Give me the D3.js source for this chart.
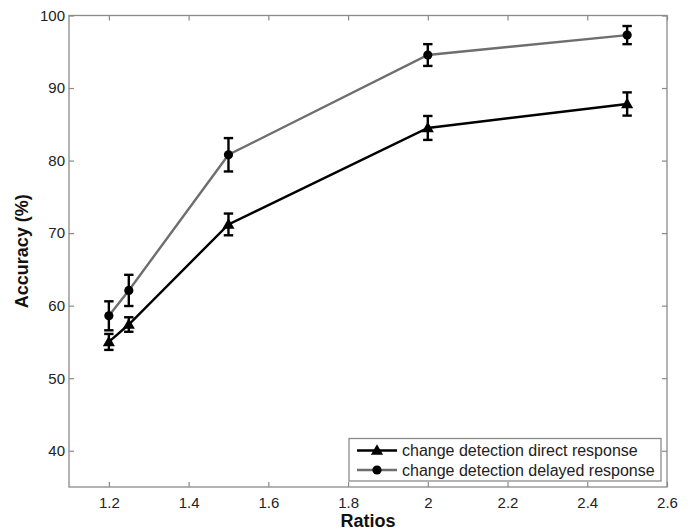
<!DOCTYPE html>
<html><head><meta charset="utf-8">
<script src="https://cdn.jsdelivr.net/npm/d3@7"></script>
<style>
html,body{margin:0;padding:0;background:#fff;}
svg{display:block;font-family:"Liberation Sans",Arial,sans-serif;}
</style></head>
<body><svg id="c" width="692" height="530"></svg>
<script>
const ratios = [1.2, 1.25, 1.5, 2, 2.5];
const directMean = [55.0, 57.4, 71.2, 84.5, 87.8];
const directErr = [1.1, 1.0, 1.5, 1.65, 1.6];
const delayedMean = [58.6, 62.1, 80.8, 94.55, 97.3];
const delayedErr = [2.0, 2.15, 2.3, 1.5, 1.25];
const xTicks = [1.2, 1.4, 1.6, 1.8, 2, 2.2, 2.4, 2.6];
const yTicks = [40, 50, 60, 70, 80, 90, 100];
const seriesNames = ["change detection direct response", "change detection delayed response"];

const svg = d3.select("#c");
const L = 69, R = 667, T = 15.5, B = 487;
const x = d3.scaleLinear().domain([1.1, 2.6]).range([L, R]);
const y = d3.scaleLinear().domain([35, 100]).range([B, T]);
const axisCol = "#8a8a8a";

// box
svg.append("rect").attr("x", L).attr("y", T).attr("width", R - L).attr("height", B - T)
  .attr("fill", "none").attr("stroke", axisCol).attr("stroke-width", 1.3);

function styleAxis(g, hideText) {
  g.select(".domain").remove();
  g.selectAll(".tick line").attr("stroke", axisCol).attr("stroke-width", 1.2);
  g.selectAll(".tick text").attr("fill", "#222").attr("font-size", 15);
  if (hideText) g.selectAll(".tick text").remove();
}
svg.append("g").attr("transform", `translate(0,${B})`)
  .call(d3.axisBottom(x).tickValues(xTicks).tickSize(-5).tickPadding(10).tickFormat(d3.format("")))
  .call(g => styleAxis(g, false));
svg.append("g").attr("transform", `translate(0,${T})`)
  .call(d3.axisTop(x).tickValues(xTicks).tickSize(-5))
  .call(g => styleAxis(g, true));
svg.append("g").attr("transform", `translate(${L},0)`)
  .call(d3.axisLeft(y).tickValues(yTicks).tickSize(-5).tickPadding(4))
  .call(g => styleAxis(g, false));
svg.append("g").attr("transform", `translate(${R},0)`)
  .call(d3.axisRight(y).tickValues(yTicks).tickSize(-5))
  .call(g => styleAxis(g, true));

// axis titles
svg.append("text").attr("x", (L + R) / 2).attr("y", 527).attr("text-anchor", "middle")
  .attr("font-size", 18).attr("font-weight", "bold").attr("fill", "#111").text("Ratios");
svg.append("text").attr("transform", `translate(28,${(T + B) / 2}) rotate(-90)`)
  .attr("text-anchor", "middle").attr("font-size", 18).attr("font-weight", "bold")
  .attr("fill", "#111").text("Accuracy (%)");

const line = d3.line().x(d => x(d[0])).y(d => y(d[1]));
const series = [
  {mean: directMean, err: directErr, color: "#000", marker: "tri"},
  {mean: delayedMean, err: delayedErr, color: "#6e6e6e", marker: "circ"}
];
function drawMarker(g, type, cx, cy) {
  if (type === "tri") {
    g.append("path").attr("d", d3.symbol().type(d3.symbolTriangle).size(64)())
      .attr("transform", `translate(${cx},${cy + 0.8})`).attr("fill", "#000");
  } else {
    g.append("circle").attr("cx", cx).attr("cy", cy).attr("r", 4.6).attr("fill", "#000");
  }
}
[1, 0].forEach(si => {
  const s = series[si];
  const pts = ratios.map((r, i) => [r, s.mean[i]]);
  svg.append("path").attr("d", line(pts)).attr("fill", "none")
    .attr("stroke", s.color).attr("stroke-width", 2.4);
  const g = svg.append("g");
  ratios.forEach((r, i) => {
    const cx = x(r), y1 = y(s.mean[i] + s.err[i]), y2 = y(s.mean[i] - s.err[i]);
    g.append("line").attr("x1", cx).attr("x2", cx).attr("y1", y1).attr("y2", y2)
      .attr("stroke", "#000").attr("stroke-width", 2.4);
    [y1, y2].forEach(yy => g.append("line").attr("x1", cx - 4.7).attr("x2", cx + 4.7)
      .attr("y1", yy).attr("y2", yy).attr("stroke", "#000").attr("stroke-width", 2.4));
    drawMarker(g, s.marker, cx, y(s.mean[i]));
  });
});

// legend
const lg = svg.append("g");
lg.append("rect").attr("x", 349).attr("y", 438.5).attr("width", 312).attr("height", 42.5)
  .attr("fill", "#fff").attr("stroke", axisCol).attr("stroke-width", 1.3);
seriesNames.forEach((name, i) => {
  const ly = 450.5 + i * 19.5;
  lg.append("line").attr("x1", 357).attr("x2", 397).attr("y1", ly).attr("y2", ly)
    .attr("stroke", series[i].color).attr("stroke-width", 2.4);
  drawMarker(lg, series[i].marker, 377, ly);
  lg.append("text").attr("x", 402).attr("y", ly + 5.6).attr("font-size", 16)
    .attr("fill", "#222").text(name);
});
</script></body></html>
